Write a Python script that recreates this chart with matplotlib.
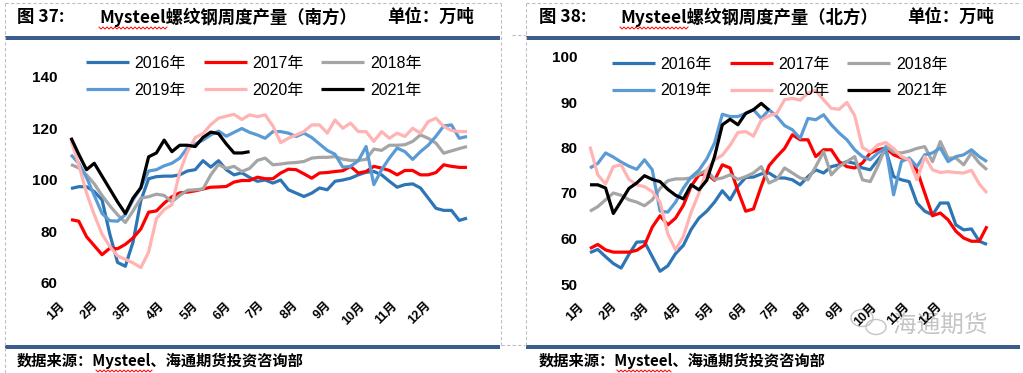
import matplotlib
matplotlib.use('Agg')
import matplotlib.pyplot as plt
import numpy as np
from matplotlib.patches import Rectangle, Ellipse

plt.rcParams['font.family'] = ['Liberation Sans', 'Noto Sans CJK SC']

W, H = 1023, 373

years = ['2016年', '2017年', '2018年', '2019年', '2020年', '2021年']
colors = ['#2E75B6', '#FF0000', '#A5A5A5', '#5B9BD5', '#FFB3B3', '#000000']
months = [f'{m}月' for m in range(1, 13)]

# weekly output, south (万吨)
south_2016 = [96.7, 97.4, 97.4, 95.5, 92.3, 79, 68, 66.5, 76, 92, 100.5, 101.3, 101.5, 101.5, 102, 103.5,
              104, 107.5, 105, 107.5, 104, 102, 102.8, 101, 99.5, 100, 98.8, 100, 96.2, 94.9, 93.6, 94.9,
              96.9, 96.2, 99.5, 100, 100.7, 102, 103, 103.3, 102, 99.5, 97.2, 98.2, 98.5, 96.9, 93, 89,
              88.2, 88.2, 84.3, 85.2]
south_2017 = [84.6, 84, 78, 74.5, 71, 73.5, 73.3, 75, 77.5, 81, 87.5, 88, 91, 93.5, 95, 95.3, 95.8, 96.5,
              97.2, 97.3, 97.5, 99.2, 99.8, 99.8, 101.1, 100.5, 100.5, 102.7, 104.2, 104, 102.4, 100.7,
              102.7, 102.9, 103.3, 103.6, 105.3, 102.7, 103.3, 105.3, 104.6, 103.7, 102, 103.7, 103.7, 102,
              102, 102.9, 105.9, 105.3, 104.9, 104.9]
south_2018 = [106, 104.7, 102, 98.5, 94, 90, 86.5, 83.5, 88, 93, 93.5, 94.5, 94, 91.5, 94, 96, 96.2, 96.5,
              102, 106, 104.5, 105.3, 103.3, 104.5, 107.6, 108.5, 105.9, 106.2, 106.6, 106.8, 107.2, 108.5,
              108.8, 108.8, 109.1, 108.1, 107.6, 107.6, 108, 112, 111.5, 113.5, 113.5, 113.7, 115, 117.5,
              116.2, 114.3, 110.4, 111.3, 112.2, 113]
south_2019 = [109.8, 106.5, 101, 94, 87, 84.2, 84, 86.5, 92.3, 97, 103.5, 104, 105.5, 106.5, 108.5, 112.5,
              114, 115.5, 117.5, 119, 117, 118.5, 120, 118.5, 117.5, 116.2, 118.8, 118.8, 118.2, 116.9,
              118.2, 116.5, 114, 111.5, 110, 105, 105.3, 107.5, 113, 98.2, 104, 108.5, 112.4, 111, 108, 111,
              113.5, 117, 121, 121.4, 116.2, 116.9]
south_2020 = [115.6, 106, 95, 86.5, 79, 74.2, 70.5, 69.2, 67.8, 66, 72, 85, 88.5, 90.4, 103, 111, 116.5,
              118, 121.5, 124, 124.8, 125.5, 123.5, 125.3, 124.6, 125.3, 121, 114.5, 116.2, 117.5, 118.8,
              121.4, 121.4, 118.2, 123.3, 120.1, 122.1, 118.8, 118.8, 115, 118.8, 116.2, 118.2, 116.9,
              120.1, 118.2, 122.7, 124, 120.8, 119.2, 118.8, 118.8]
south_2021 = [116.4, 110, 104, 106.5, 101.5, 96.5, 91.5, 87, 93, 97, 109, 110.5, 115.5, 111, 113.5, 113.5,
              113, 116.5, 118.6, 118, 114, 110.5, 110.5, 111]

# weekly output, north (万吨)
north_2016 = [56.9, 57.6, 56, 54.5, 53.5, 56.5, 59.2, 59.3, 56, 52.8, 54, 56.7, 58.5, 62, 64.5, 66, 68,
              70.5, 68.5, 71.5, 73.4, 73.5, 74.2, 74.4, 73.3, 73.3, 72.9, 71.8, 73.6, 75.1, 74.4, 75.8,
              76.2, 76.9, 76.5, 75.5, 75.1, 77.3, 79.5, 73.6, 72.9, 72.5, 67.8, 66, 65.2, 67.8, 67.8, 63,
              61.9, 62.1, 59.4, 58.7]
north_2017 = [57.8, 58.7, 57.5, 57, 57, 57, 57.4, 58.5, 62.5, 65, 63, 64.5, 67.3, 71.5, 74, 74.2, 72.8,
              76.2, 75.5, 70.5, 66, 66.5, 71.5, 76, 78, 79.8, 82.8, 81.7, 81.7, 78, 79.5, 79.5, 76.9, 75.8,
              75.5, 76.6, 78.8, 79.5, 79.9, 78.4, 77.7, 77.3, 75, 70, 65, 65.6, 64.1, 61.6, 60.1, 59.4,
              59.4, 62.7]
north_2018 = [66, 67, 68.5, 70, 69.5, 68.5, 68, 67.2, 68.5, 71, 72.7, 73.1, 73.1, 73.3, 74.2, 75, 73, 73.3,
              74, 73, 73.6, 74.4, 75.8, 72.2, 73, 75.5, 74.4, 73.3, 72.9, 75.8, 79.1, 74, 75.8, 76.9, 78,
              72.9, 72.5, 76, 80.3, 79, 78.8, 79.2, 79.8, 80.2, 76.9, 81.3, 77.7, 77.7, 76.2, 78.8, 76.6,
              75.1]
north_2019 = [75.5, 76.5, 78.8, 77.9, 76.8, 75.9, 75.2, 77.3, 75.1, 66, 65.8, 68, 71.1, 73.5, 75, 77.5, 81,
              87.3, 86.8, 86.8, 87.5, 88.3, 86.4, 88.3, 86.8, 84.8, 83.9, 82, 86.4, 86.1, 87.2, 85, 83.2,
              81.7, 79.5, 78, 77.3, 78.8, 79.9, 69.6, 76.9, 77.7, 75.8, 78.4, 78.8, 79.9, 76.9, 78, 78.4,
              79.5, 78, 76.9]
north_2020 = [80.2, 74, 72, 75.8, 76.2, 73, 71.8, 71.4, 70.3, 68, 61, 57.5, 60.5, 65.8, 70, 75.1, 77.3,
              78.3, 80.5, 83.3, 83.5, 82.5, 86, 87, 87.5, 90.5, 90.8, 90.4, 92, 92.5, 90.5, 88.6, 88.4,
              89.9, 87, 80, 79, 80.6, 81.1, 79.8, 78, 77.3, 72.9, 78, 75.1, 74.5, 74.7, 74.5, 74.4, 75,
              72, 70]
north_2021 = [71.8, 71.8, 71.1, 65.5, 68.2, 71, 72.2, 73.8, 73, 72.5, 70.8, 69.5, 68.7, 71.8, 70.7, 72.8,
              78, 85, 86.2, 85, 87.5, 88.3, 89.7, 88.2]

south = [south_2016, south_2017, south_2018, south_2019, south_2020, south_2021]
north = [north_2016, north_2017, north_2018, north_2019, north_2020, north_2021]

fig = plt.figure(figsize=(W / 100, H / 100), dpi=100)

# pixel overlay for the page decorations
deco = fig.add_axes([0, 0, 1, 1], zorder=-1)
deco.set_xlim(0, W)
deco.set_ylim(H, 0)
deco.set_axis_off()

bar_color = '#3A5D8C'
dash = dict(color='#BFBFBF', lw=0.8, ls=(0, (3, 2)))
deco.plot([4.5, 4.5], [3, H], **dash)
deco.plot([501, 501], [3, 345], **dash)
deco.plot([4.5, 501], [3, 3], **dash)
deco.plot([501, 525], [345, 345], **dash)
deco.plot([525.5, 525.5], [3, 345], **dash)
deco.plot([512, 525], [35, 35], **dash)
deco.plot([525.5, 1021], [3, 3], **dash)

for x0, x1 in [(5, 500), (526, 1020)]:
    deco.add_patch(Rectangle((x0, 35.5), x1 - x0, 4, color=bar_color, lw=0))
    deco.add_patch(Rectangle((x0, 344.5), x1 - x0, 4, color=bar_color, lw=0))

title_font = dict(family=['Noto Sans CJK SC'], fontsize=12.5, fontweight='bold', va='center')
src_font = dict(family=['Noto Sans CJK SC'], fontsize=11, fontweight='bold', va='center')
deco.text(17, 17, '图 37:', **title_font)
deco.text(99, 17, 'Mysteel螺纹钢周度产量（南方）', **title_font)
deco.text(387, 17, '单位：万吨', **title_font)
deco.text(539, 17, '图 38:', **title_font)
deco.text(620, 17, 'Mysteel螺纹钢周度产量（北方）', **title_font)
deco.text(907, 17, '单位：万吨', **title_font)
deco.text(17, 361, '数据来源：Mysteel、海通期货投资咨询部', **src_font)
deco.text(539, 361, '数据来源：Mysteel、海通期货投资咨询部', **src_font)

# spell-check squiggles under "Mysteel"
for x0, x1, y0 in [(99, 167, 28), (620, 688, 28), (96, 152, 371), (617, 672, 371)]:
    xs = np.arange(x0, x1 + 1, 2)
    ys = y0 + np.where(np.arange(len(xs)) % 2 == 0, -1, 1)
    deco.plot(xs, ys, color='#FF0000', lw=0.7)

# watermark
deco.add_patch(Ellipse((862, 318), 22, 17, fill=False, ec='#C4C4C4', lw=1))
deco.add_patch(Ellipse((876, 327), 20, 15, fill=False, ec='#C4C4C4', lw=1, fc='white'))
deco.text(940, 325, '海通期货', family=['Noto Sans CJK SC'], fontsize=17, color='#C4C4C4',
          ha='center', va='center')


def make_panel(x0, y0, x1, y1, data, ylim, yticks, ypad, legend_xy, tick_pos):
    ax = fig.add_axes([x0 / W, 1 - y1 / H, (x1 - x0) / W, (y1 - y0) / H])
    ax.patch.set_alpha(0)
    lines = []
    for vals, c, lab in zip(data, colors, years):
        ln, = ax.plot(np.arange(len(vals)), vals, color=c, lw=2.3, label=lab,
                      solid_joinstyle='round', solid_capstyle='butt')
        lines.append(ln)
    ax.set_xlim(-1, 52)
    ax.set_ylim(*ylim)
    ax.set_yticks(yticks)
    ax.set_yticklabels([str(v) for v in yticks], fontsize=11, fontweight='bold')
    ax.set_xticks(tick_pos)
    ax.set_xticklabels(months, rotation=45, ha='right', fontsize=9, fontweight='bold')
    ax.tick_params(axis='y', length=0, pad=ypad)
    ax.tick_params(axis='x', length=0, pad=12)
    for s in ax.spines.values():
        s.set_visible(False)
    order = [0, 3, 1, 4, 2, 5]
    ax.legend([lines[i] for i in order], [years[i] for i in order], ncol=3, loc='upper left',
              bbox_to_anchor=(legend_xy[0] / W, 1 - legend_xy[1] / H), bbox_transform=fig.transFigure,
              frameon=False, fontsize=11.5, handlelength=2.7, handletextpad=0.35, columnspacing=1.1,
              labelspacing=0.72, borderpad=0, borderaxespad=0)
    return ax


left_ticks = -0.5 + 4.29 * np.arange(12)
right_ticks = -0.4 + 4.17 * np.arange(12)
make_panel(63.2, 77, 474.8, 283, south, (60, 140), [60, 80, 100, 120, 140], 4.3, (86, 56), left_ticks)
make_panel(582.2, 56.5, 994.8, 284, north, (50, 100), [50, 60, 70, 80, 90, 100], 3.6, (612, 57), right_ticks)

fig.savefig('out.png', dpi=100)
